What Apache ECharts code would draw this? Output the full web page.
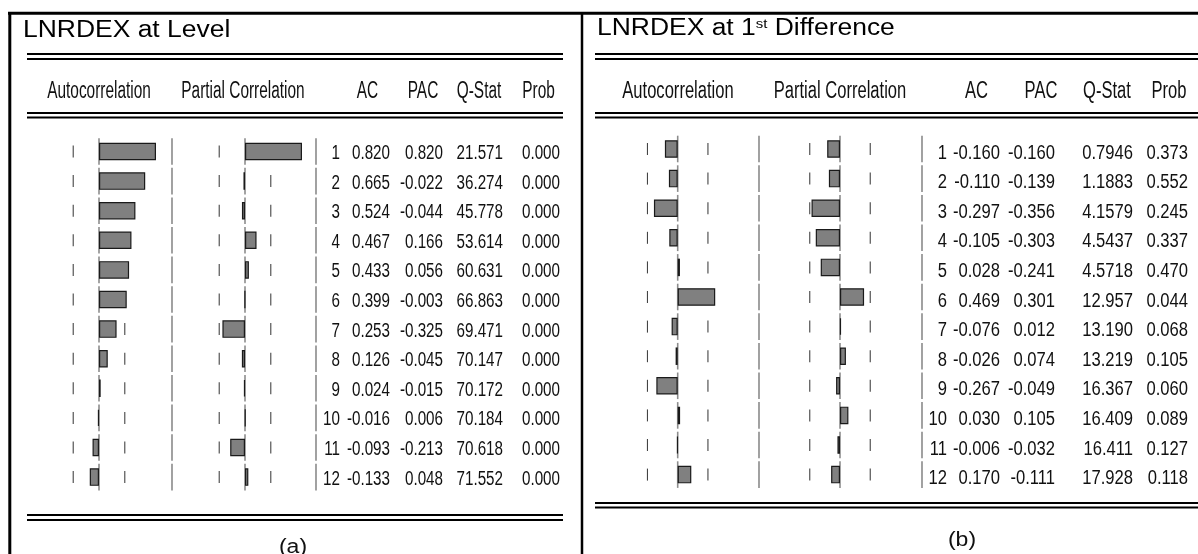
<!DOCTYPE html>
<html>
<head>
<meta charset="utf-8">
<title>LNRDEX correlograms</title>
<script src="https://cdn.jsdelivr.net/npm/echarts@6/dist/echarts.min.js"></script>
<style>
  html, body { margin: 0; padding: 0; background: #ffffff; }
  #chart { width: 1198px; height: 554px; }
</style>
</head>
<body>
<div id="chart"></div>
<script>
// Correlogram statistics for LNRDEX, lags 1..12
const lags = [1, 2, 3, 4, 5, 6, 7, 8, 9, 10, 11, 12];

const levelAC   = [0.820, 0.665, 0.524, 0.467, 0.433, 0.399, 0.253, 0.126, 0.024, -0.016, -0.093, -0.133];
const levelPAC  = [0.820, -0.022, -0.044, 0.166, 0.056, -0.003, -0.325, -0.045, -0.015, 0.006, -0.213, 0.048];
const levelQ    = [21.571, 36.274, 45.778, 53.614, 60.631, 66.863, 69.471, 70.147, 70.172, 70.184, 70.618, 71.552];
const levelProb = [0.000, 0.000, 0.000, 0.000, 0.000, 0.000, 0.000, 0.000, 0.000, 0.000, 0.000, 0.000];

const diffAC    = [-0.160, -0.110, -0.297, -0.105, 0.028, 0.469, -0.076, -0.026, -0.267, 0.030, -0.006, 0.170];
const diffPAC   = [-0.160, -0.139, -0.356, -0.303, -0.241, 0.301, 0.012, 0.074, -0.049, 0.105, -0.032, -0.111];
const diffQ     = [0.7946, 1.1883, 4.1579, 4.5437, 4.5718, 12.957, 13.190, 13.219, 16.367, 16.409, 16.411, 17.928];
const diffProb  = [0.373, 0.552, 0.245, 0.337, 0.470, 0.044, 0.068, 0.105, 0.060, 0.089, 0.127, 0.118];

// approximate 2/sqrt(T) bands shown as dashes beside the zero line
const bandLevel = 0.371;
const bandDiff  = 0.378;

const panelTitles  = ['LNRDEX at Level', 'LNRDEX at 1st Difference'];
const panelLabels  = ['(a)', '(b)'];
const graphHeads   = ['Autocorrelation', 'Partial Correlation'];
const tableHeads   = ['AC', 'PAC', 'Q-Stat', 'Prob'];
const tableColumns = ['Lag', 'AC', 'PAC', 'Q-Stat', 'Prob'];

const FONT = "'Liberation Sans', Arial, Helvetica, sans-serif";
const ROW_H = 29.6;

// layout of the two panels (pixels)
const panels = [
  {
    ac: levelAC, pac: levelPAC, q: levelQ, prob: levelProb, band: bandLevel,
    top: 136.7, unit: 69.5, acZero: 99, pacZero: 245,
    tableLeft: 316, tableWidth: 250, colShift: [-26, -26, -23, -13, -6],
    splitX: 172, textDy: 2, textScale: 0.76, headScale: 0.67,
    headX: [99, 243, 367.5, 423, 479, 538.5],
    ruleX: [27, 563], ruleY: [54, 59, 113, 117.5, 515, 520],
    titleX: 23, titleY: 31, labelX: 293, labelY: 547
  },
  {
    ac: diffAC, pac: diffPAC, q: diffQ, prob: diffProb, band: bandDiff,
    top: 134.2, unit: 80, acZero: 677.7, pacZero: 840,
    tableLeft: 922, tableWidth: 270, colShift: [-29, -30, -29, -5, -4],
    splitX: 759, textDy: 4, textScale: 0.83, headScale: 0.72,
    headX: [678, 840, 976.5, 1041, 1107, 1169],
    ruleX: [595, 1198], ruleY: [54, 59, 113, 117.5, 503, 507.5],
    titleX: 597, titleY: 29, labelX: 962, labelY: 540
  }
];

function fmtQ(v) { return v < 10 ? v.toFixed(4) : v.toFixed(3); }

// zero line segments per row plus the ± band dashes
function guideRenderer(band) {
  return function (params, api) {
    const c = api.coord([0, api.value(1)]);
    const h = api.size([0, 1])[1];
    const dx = api.size([band, 0])[0];
    const y = c[1];
    return {
      type: 'group',
      children: [
        { type: 'line', shape: { x1: c[0], y1: y - h / 2 + 1.5, x2: c[0], y2: y + h / 2 - 1.5 },
          style: { stroke: '#8c8c8c', lineWidth: 1.6 } },
        { type: 'line', shape: { x1: c[0] - dx, y1: y - 6, x2: c[0] - dx, y2: y + 6 },
          style: { stroke: '#444', lineWidth: 1.1 } },
        { type: 'line', shape: { x1: c[0] + dx, y1: y - 6, x2: c[0] + dx, y2: y + 6 },
          style: { stroke: '#444', lineWidth: 1.1 } }
      ]
    };
  };
}

// column separators, drawn row by row
function dividerRenderer(p) {
  return function (params, api) {
    const c = api.coord([0, api.value(1)]);
    const h = api.size([0, 1])[1];
    const y = c[1];
    const xs = [p.splitX, params.coordSys.x];
    return {
      type: 'group',
      children: xs.map(x => ({
        type: 'line',
        shape: { x1: x, y1: y - h / 2 + 1.5, x2: x, y2: y + h / 2 - 1.5 },
        style: { stroke: '#555', lineWidth: 1.1 }
      }))
    };
  };
}

// one table row: lag, AC, PAC, Q-Stat, Prob
function rowRenderer(p) {
  return function (params, api) {
    const i = api.value(1);
    const bw = api.size([1, 0])[0];
    const cells = [String(lags[i]), p.ac[i].toFixed(3), p.pac[i].toFixed(3), fmtQ(p.q[i]), p.prob[i].toFixed(3)];
    return {
      type: 'group',
      children: cells.map((t, col) => {
        const c = api.coord([col, i]);
        return {
          type: 'text',
          x: c[0] + bw / 2 + p.colShift[col],
          y: c[1] + p.textDy,
          scaleX: p.textScale,
          style: { text: t, fill: '#111', fontSize: 20, fontFamily: FONT, align: 'right', verticalAlign: 'middle' }
        };
      })
    };
  };
}

const grid = [], xAxis = [], yAxis = [], series = [], graphic = [];
const rowData = lags.map((l, i) => [0, i]);

panels.forEach((p, k) => {
  const gridH = ROW_H * lags.length;
  const base = grid.length;
  grid.push(
    { left: p.acZero - p.unit, top: p.top, width: 2 * p.unit, height: gridH },
    { left: p.pacZero - p.unit, top: p.top, width: 2 * p.unit, height: gridH },
    { left: p.tableLeft, top: p.top, width: p.tableWidth, height: gridH }
  );
  for (let g = 0; g < 3; g++) {
    const gi = base + g;
    if (g < 2) {
      xAxis.push({ type: 'value', gridIndex: gi, min: -1, max: 1, show: false });
    } else {
      xAxis.push({ type: 'category', gridIndex: gi, data: tableColumns, show: false });
    }
    yAxis.push({ type: 'category', gridIndex: gi, data: lags, inverse: true, show: false });
  }
  [p.ac, p.pac].forEach((vals, g) => {
    const gi = base + g;
    series.push({
      type: 'custom', xAxisIndex: gi, yAxisIndex: gi, z: 1, silent: true,
      renderItem: guideRenderer(p.band), data: rowData, encode: { x: 0, y: 1 }, clip: false
    });
    series.push({
      type: 'bar', xAxisIndex: gi, yAxisIndex: gi, z: 3, silent: true,
      data: vals, barWidth: 17.5,
      itemStyle: { color: '#808080', borderColor: '#1a1a1a', borderWidth: 1.2 }
    });
  });
  series.push({
    type: 'custom', xAxisIndex: base + 2, yAxisIndex: base + 2, silent: true, clip: false,
    renderItem: dividerRenderer(p), data: rowData, encode: { x: 0, y: 1 }
  });
  series.push({
    type: 'custom', xAxisIndex: base + 2, yAxisIndex: base + 2, silent: true, clip: false,
    renderItem: rowRenderer(p), data: rowData, encode: { x: 0, y: 1 }
  });

  // double rules
  for (let r = 0; r < p.ruleY.length; r++) {
    graphic.push({ type: 'line', silent: true,
      shape: { x1: p.ruleX[0], y1: p.ruleY[r], x2: p.ruleX[1], y2: p.ruleY[r] },
      style: { stroke: '#000', lineWidth: 1.8 } });
  }
  // column headings
  graphHeads.concat(tableHeads).forEach((h, j) => {
    graphic.push({ type: 'text', silent: true, x: p.headX[j], y: 92, scaleX: p.headScale,
      style: { text: h, fill: '#111', fontSize: 23, fontFamily: FONT, align: 'center', verticalAlign: 'middle' } });
  });
  // panel caption below
  graphic.push({ type: 'text', silent: true, x: p.labelX, y: p.labelY, scaleX: 1.15,
    style: { text: panelLabels[k], fill: '#111', fontSize: 20, fontFamily: FONT, align: 'center', verticalAlign: 'middle' } });
});

// panel titles
graphic.push({ type: 'text', silent: true, x: panels[0].titleX, y: panels[0].titleY, scaleX: 1.15,
  style: { text: panelTitles[0], fill: '#000', fontSize: 23, fontFamily: FONT, align: 'left', verticalAlign: 'middle' } });
graphic.push({ type: 'text', silent: true, x: panels[1].titleX, y: panels[1].titleY, scaleX: 1.15,
  style: {
    text: '{n|LNRDEX at 1}{s|st}{n| Difference}',
    fill: '#000', fontSize: 23, fontFamily: FONT, align: 'left', verticalAlign: 'middle',
    rich: {
      n: { fontSize: 23, fontFamily: FONT, fill: '#000' },
      s: { fontSize: 13, fontFamily: FONT, fill: '#000', verticalAlign: 'top' }
    }
  } });

// outer frame
graphic.push(
  { type: 'line', silent: true, shape: { x1: 8, y1: 13.3, x2: 1198, y2: 13.3 }, style: { stroke: '#000', lineWidth: 3 } },
  { type: 'line', silent: true, shape: { x1: 9.8, y1: 12, x2: 9.8, y2: 554 }, style: { stroke: '#000', lineWidth: 3 } },
  { type: 'line', silent: true, shape: { x1: 582, y1: 12, x2: 582, y2: 554 }, style: { stroke: '#000', lineWidth: 2.5 } }
);

const chart = echarts.init(document.getElementById('chart'), null, { renderer: 'canvas' });
chart.setOption({
  animation: false,
  backgroundColor: '#ffffff',
  grid, xAxis, yAxis, series, graphic
});
</script>
</body>
</html>
